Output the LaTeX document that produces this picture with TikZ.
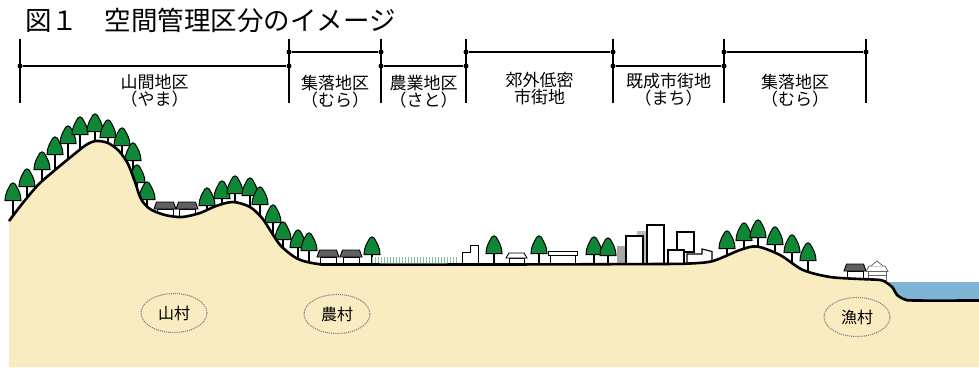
\documentclass[tikz,border=0pt]{standalone}
\usepackage{fontspec}
\setmainfont{Noto Sans CJK JP}
\usetikzlibrary{shapes.geometric}

\definecolor{sand}{RGB}{250,236,193}
\definecolor{treegreen}{RGB}{14,135,55}
\definecolor{water}{RGB}{127,180,214}
\definecolor{roofgray}{RGB}{95,95,95}
\definecolor{grassgreen}{RGB}{130,200,150}

\tikzset{
  tree/.pic={
    \draw[line width=1.3pt] (0,15) -- (0,45);
    \draw[line width=1pt, fill=treegreen] (-8,17.5) .. controls (-8.3,11) and (-4.3,5) .. (-2.3,1.2)
      .. controls (-1.2,-0.6) and (1.2,-0.6) .. (2.3,1.2) .. controls (4.3,5) and (8.3,11) .. (8,17.5) -- cycle;
  },
  hut/.pic={
    \draw[line width=0.9pt, fill=white] (-8,7) rectangle (8,15);
    \draw[line width=0.9pt, fill=roofgray] (-8.5,0) -- (8.5,0) -- (11,7) -- (-11,7) -- cycle;
  },
  shed/.pic={
    \draw[line width=0.9pt, fill=white] (-7.5,5) rectangle (7.5,11);
    \draw[line width=0.9pt, fill=white] (-7.5,0) -- (7.5,0) -- (10.5,5) -- (-10.5,5) -- cycle;
  },
}

\begin{document}
\begin{tikzpicture}[x=1pt, y=-1pt,
  div/.style={line width=1.1pt},
  dot/.style={circle, fill, inner sep=0pt, minimum size=5pt},
  zone/.style={font=\fontsize{17}{17}\selectfont, align=center, inner sep=0pt},
  village/.style={ellipse, draw=gray, densely dotted, line width=1.1pt, minimum width=66pt,
    minimum height=39pt, inner sep=0pt, font=\fontsize{16}{16}\selectfont},
  bldg/.style={draw, fill=white, line width=1.2pt},
  blade/.style={grassgreen, line width=0.8pt},
  ground/.style={line width=2.6pt, line join=round},
]
  \useasboundingbox (0,0) rectangle (979,367);

  \node[anchor=west, inner sep=0pt, font=\fontsize{26.5}{28}\selectfont] (title) at (25,20) {図１　空間管理区分のイメージ};

  % zone dividers
  \foreach \x [count=\i] in {20,289,381,466,613,724,866} {
    \coordinate (t\i) at (\x,39);
    \coordinate (b\i) at (\x,103);
    \draw[div] (t\i) -- (b\i);
  }
  \foreach \xa/\xb/\y [count=\k] in {20/289/66, 289/381/52, 381/466/66, 466/613/52, 613/724/66, 724/866/52} {
    \node[dot] (p\k) at (\xa,\y) {};
    \node[dot] (q\k) at (\xb,\y) {};
    \draw[div] (p\k) -- (q\k);
  }

  \node[zone] (yama) at (154.5,91) {山間地区\\（やま）};
  \node[zone] (mura1) at (335,92) {集落地区\\（むら）};
  \node[zone] (sato) at (423.5,92) {農業地区\\（さと）};
  \node[zone] (kogai) at (539.5,89) {郊外低密\\市街地};
  \node[zone] (machi) at (668.5,90) {既成市街地\\（まち）};
  \node[zone] (mura2) at (795,91) {集落地区\\（むら）};

  % sea
  \fill[water] (887,282) rectangle (979,310);

  % trees
  \foreach \x/\y in {13/183, 27/169, 42/152, 55/137, 68/126, 80/117, 95/114, 108/120, 122/128,
      133/143, 137/165, 147/182, 207/188, 222/181, 235/176, 250/178, 260/187, 273/205, 283/222,
      298/230, 309/233, 372/237, 494/236, 539/236, 594/237, 608/238,
      727/231, 744/223, 758/220, 775/227, 792/235, 808/243}
    \pic at (\x,\y) {tree};

  % houses
  \pic at (165,202) {hut};
  \pic at (187,202) {hut};
  \pic at (328,250) {hut};
  \pic at (351,250) {hut};
  \pic at (855,264) {hut};
  \pic at (516.5,253) {shed};
  \draw[bldg, line width=0.9pt] (550,255) rectangle (575,264.5);
  \draw[bldg, line width=0.9pt] (548,251) rectangle (577,255);
  \draw[bldg, line width=0.9pt] (462,264.5) -- (462,252) -- (470,252) -- (470,245) -- (478,245) -- (478,264.5);

  % fields
  \foreach \x in {372,375,...,456}
    \draw[blade] (\x,256.5) -- (\x,263);

  % town blocks
  \fill[gray!70] (617,246) rectangle (627,264);
  \fill[gray!55] (637,231) rectangle (647,264);
  \draw[bldg] (626,236) rectangle (643,264);
  \draw[bldg, line width=1.7pt] (647,225) rectangle (664,264);
  \draw[bldg] (677,232) rectangle (694,252);
  \draw[bldg] (668,250) rectangle (684,264);
  \draw[bldg] (687,264) -- (687,254) -- (702,254) -- (702,249) -- (712,251.5) -- (712,264) -- cycle;

  % fishing village shrine
  \draw[line width=0.8pt, draw=black!60, fill=white] (868,271) rectangle (886,280);
  \draw[line width=0.8pt, draw=black!60, fill=white] (869,266) -- (885,266) -- (888,271.5) -- (866,271.5) -- cycle;
  \draw[line width=0.8pt, draw=black!60, fill=white] (871,266) -- (877,261) -- (883,266);
  \draw[line width=0.6pt, draw=black!60] (868,275.5) -- (886,275.5);

  % land: hills -> town -> shore
  \fill[sand] plot[smooth, tension=0.5] coordinates {
    (9,221) (22,204) (38,185) (55,170) (72,156) (86,145) (96,141) (108,143) (119,151)
    (128,164) (135,182) (141,199) (150,209) (165,215) (182,217) (200,213) (216,206)
    (233,202) (250,207) (262,218) (270,230) (281,246) (298,259) (318,264) (340,264.5)
    (500,264.5) (660,264) (690,263.5) (713,261) (740,250) (757,246.5) (780,255)
    (803,270) (830,277) (860,279) (880,280) (887,283) (893,288) (897,295) (905,299.5)
    (915,300.5) (979,300.5)} -- (979,367) -- (9,367) -- cycle;
  \draw[ground] plot[smooth, tension=0.5] coordinates {
    (9,221) (22,204) (38,185) (55,170) (72,156) (86,145) (96,141) (108,143) (119,151)
    (128,164) (135,182) (141,199) (150,209) (165,215) (182,217) (200,213) (216,206)
    (233,202) (250,207) (262,218) (270,230) (281,246) (298,259) (318,264) (340,264.5)
    (500,264.5) (660,264) (690,263.5) (713,261) (740,250) (757,246.5) (780,255)
    (803,270) (830,277) (860,279) (880,280) (887,283) (893,288) (897,295) (905,299.5)
    (915,300.5) (979,300.5)};

  \node[village] (sanson) at (174,313) {山村};
  \node[village] (noson) at (337,314) {農村};
  \node[village] (gyoson) at (857,317) {漁村};
\end{tikzpicture}
\end{document}
